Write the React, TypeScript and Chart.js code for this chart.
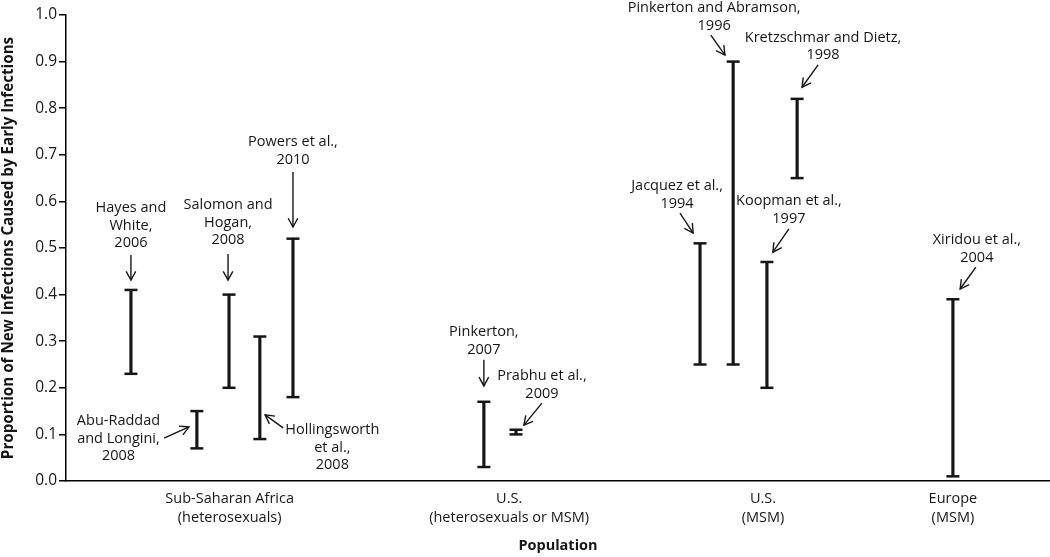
import React, { useEffect, useRef } from "react";
import { Chart, registerables } from "chart.js";

Chart.register(...registerables);

// ---- Data ----
const studyNames = [
  "Hayes and White, 2006",
  "Abu-Raddad and Longini, 2008",
  "Salomon and Hogan, 2008",
  "Hollingsworth et al., 2008",
  "Powers et al., 2010",
  "Pinkerton, 2007",
  "Prabhu et al., 2009",
  "Jacquez et al., 1994",
  "Pinkerton and Abramson, 1996",
  "Koopman et al., 1997",
  "Kretzschmar and Dietz, 1998",
  "Xiridou et al., 2004",
];
const studyX = [1.98, 3.99, 4.97, 5.91, 6.92, 12.74, 13.72, 19.33, 20.34, 21.37, 22.29, 27.04];
const lowValues = [0.23, 0.07, 0.2, 0.09, 0.18, 0.03, 0.1, 0.25, 0.25, 0.2, 0.65, 0.01];
const highValues = [0.41, 0.15, 0.4, 0.31, 0.52, 0.17, 0.11, 0.51, 0.9, 0.47, 0.82, 0.39];

const populationX = [4.99, 13.51, 21.25, 27.04];
const populationLabels = [
  ["Sub-Saharan Africa", "(heterosexuals)"],
  ["U.S.", "(heterosexuals or MSM)"],
  ["U.S.", "(MSM)"],
  ["Europe", "(MSM)"],
];

const yAxisTitle = "Proportion of New Infections Caused by Early Infections";
const xAxisTitle = "Population";

// Annotation text (lines) per study, same order as studyNames
const annotationText = [
  ["Hayes and", "White,", "2006"],
  ["Abu-Raddad", "and Longini,", "2008"],
  ["Salomon and", "Hogan,", "2008"],
  ["Hollingsworth", "et al.,", "2008"],
  ["Powers et al.,", "2010"],
  ["Pinkerton,", "2007"],
  ["Prabhu et al.,", "2009"],
  ["Jacquez et al.,", "1994"],
  ["Pinkerton and Abramson,", "1996"],
  ["Koopman et al.,", "1997"],
  ["Kretzschmar and Dietz,", "1998"],
  ["Xiridou et al.,", "2004"],
];

// Annotation layout in data coordinates: text anchor (first line centre), arrow tail, arrow head
const annotationLayout = [
  { tx: 1.98, ty: 0.586, tail: [1.98, 0.485], head: [1.98, 0.431] },
  { tx: 1.6, ty: 0.129, tail: [2.99, 0.092], head: [3.75, 0.116] },
  { tx: 4.94, ty: 0.592, tail: [4.94, 0.487], head: [4.94, 0.431] },
  { tx: 8.12, ty: 0.109, tail: [6.62, 0.114], head: [6.07, 0.142] },
  { tx: 6.92, ty: 0.727, tail: [6.92, 0.663], head: [6.92, 0.545] },
  { tx: 12.74, ty: 0.32, tail: [12.74, 0.26], head: [12.74, 0.204] },
  { tx: 14.51, ty: 0.225, tail: [14.51, 0.167], head: [13.96, 0.12] },
  { tx: 18.63, ty: 0.633, tail: [18.72, 0.575], head: [19.12, 0.532] },
  { tx: 19.76, ty: 1.015, tail: [19.66, 0.957], head: [20.09, 0.914] },
  { tx: 22.04, ty: 0.601, tail: [22.04, 0.541], head: [21.55, 0.491] },
  { tx: 23.08, ty: 0.951, tail: [22.93, 0.893], head: [22.44, 0.845] },
  { tx: 27.77, ty: 0.517, tail: [27.74, 0.459], head: [27.26, 0.412] },
];

const FONT = "'Open Sans', 'DejaVu Sans', sans-serif";
const INK = "#161616";

const capPlugin = {
  id: "rangeCaps",
  afterDatasetsDraw(chart: any) {
    const ctx = chart.ctx;
    const meta = chart.getDatasetMeta(0);
    ctx.save();
    ctx.strokeStyle = INK;
    ctx.lineWidth = 2.5;
    meta.data.forEach((el: any) => {
      const { x, y, base } = el.getProps(["x", "y", "base"], true);
      [y, base].forEach((yy: number) => {
        ctx.beginPath();
        ctx.moveTo(x - 6.5, yy);
        ctx.lineTo(x + 6.5, yy);
        ctx.stroke();
      });
    });
    ctx.restore();
  },
};

const annotationPlugin = {
  id: "studyLabels",
  afterDraw(chart: any) {
    const ctx = chart.ctx;
    const xs = chart.scales.x;
    const ys = chart.scales.y;
    ctx.save();
    ctx.fillStyle = INK;
    ctx.strokeStyle = INK;
    ctx.font = `14.5px ${FONT}`;
    ctx.textAlign = "center";
    ctx.textBaseline = "middle";
    annotationLayout.forEach((a, i) => {
      const px = xs.getPixelForValue(a.tx);
      const py = ys.getPixelForValue(a.ty);
      annotationText[i].forEach((line, k) => {
        ctx.fillText(line, px, py + k * 17.5);
      });
      const x1 = xs.getPixelForValue(a.tail[0]);
      const y1 = ys.getPixelForValue(a.tail[1]);
      const x2 = xs.getPixelForValue(a.head[0]);
      const y2 = ys.getPixelForValue(a.head[1]);
      ctx.lineWidth = 1.4;
      ctx.beginPath();
      ctx.moveTo(x1, y1);
      ctx.lineTo(x2, y2);
      ctx.stroke();
      const ang = Math.atan2(y2 - y1, x2 - x1);
      const len = 10;
      const spread = 0.5;
      ctx.beginPath();
      ctx.moveTo(x2 - len * Math.cos(ang - spread), y2 - len * Math.sin(ang - spread));
      ctx.lineTo(x2, y2);
      ctx.lineTo(x2 - len * Math.cos(ang + spread), y2 - len * Math.sin(ang + spread));
      ctx.stroke();
    });
    ctx.restore();
  },
};

export default function App() {
  const canvasRef = useRef<HTMLCanvasElement | null>(null);

  useEffect(() => {
    if (!canvasRef.current) return;
    const data = studyX.map((x, i) => ({ x, y: [lowValues[i], highValues[i]] }));
    const chart = new Chart(canvasRef.current, {
      type: "bar",
      data: {
        datasets: [
          {
            label: "Proportion range",
            data: data as any,
            backgroundColor: INK,
            borderWidth: 0,
            barThickness: 2.5,
          },
        ],
      },
      options: {
        animation: false,
        responsive: false,
        devicePixelRatio: 1,
        layout: { padding: { top: 15, right: 0, bottom: 0, left: 0 } },
        plugins: {
          legend: { display: false },
          tooltip: { enabled: false },
        },
        scales: {
          x: {
            type: "linear",
            min: 0,
            max: 30,
            offset: false,
            grid: { display: false, drawTicks: false },
            border: { display: true, color: "#000", width: 1.5 },
            afterBuildTicks: (scale: any) => {
              scale.ticks = populationX.map((v) => ({ value: v }));
            },
            afterFit: (scale: any) => {
              scale.height = 76;
            },
            ticks: {
              autoSkip: false,
              maxRotation: 0,
              padding: 8.5,
              color: INK,
              font: { family: FONT, size: 14.5, lineHeight: 1.3 },
              callback: (_v: any, i: number) => populationLabels[i],
            },
            title: {
              display: true,
              text: xAxisTitle,
              color: INK,
              font: { family: FONT, size: 14.5, weight: "bold", lineHeight: 1.2 },
              padding: { top: 0, bottom: 2 },
            },
          },
          y: {
            min: 0,
            max: 1,
            grid: {
              drawOnChartArea: false,
              drawTicks: true,
              tickLength: 7,
              color: "#000",
              lineWidth: 1.5,
            },
            border: { display: true, color: "#000", width: 1.5 },
            afterFit: (scale: any) => {
              scale.width = 66;
            },
            ticks: {
              stepSize: 0.1,
              padding: 2,
              color: INK,
              font: { family: FONT, size: 15.5 },
              callback: (v: any) => Number(v).toFixed(1),
            },
            title: {
              display: true,
              text: yAxisTitle,
              color: INK,
              font: { family: FONT, size: 15.2, weight: "bold", lineHeight: 1.2 },
              padding: { top: 0, bottom: 0 },
            },
          },
        },
      },
      plugins: [capPlugin, annotationPlugin],
    });
    return () => chart.destroy();
  }, []);

  return (
    <div style={{ position: "absolute", left: 0, top: 0, width: 1050, height: 557, background: "#fff" }}>
      <canvas ref={canvasRef} width={1050} height={557} />
    </div>
  );
}
